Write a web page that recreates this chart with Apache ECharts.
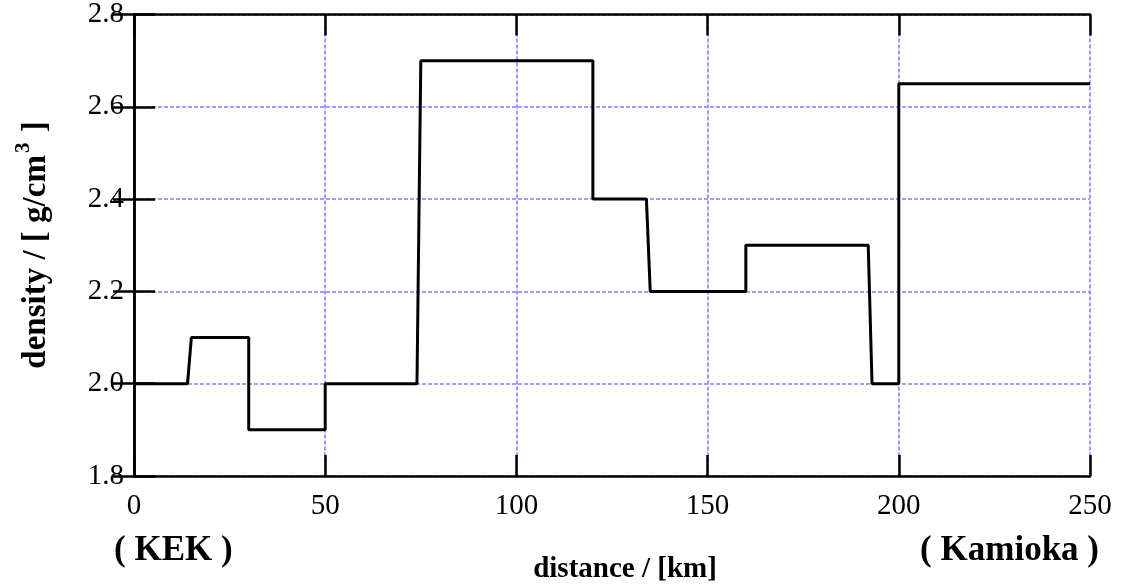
<!DOCTYPE html>
<html>
<head>
<meta charset="utf-8">
<script src="https://cdn.jsdelivr.net/npm/echarts@6/dist/echarts.min.js"></script>
<style>html,body{margin:0;padding:0;background:#fff}#c{width:1122px;height:588px}</style>
</head>
<body>
<div id="c"></div>
<script>
// step profile of density along the KEK -> Kamioka baseline
const distanceKm = [0, 14, 15, 30, 30, 50, 50, 74, 75, 120, 120, 134, 135, 160, 160, 192, 193, 200, 200, 250];
const densityGcm3 = [2.0, 2.0, 2.1, 2.1, 1.9, 1.9, 2.0, 2.0, 2.7, 2.7, 2.4, 2.4, 2.2, 2.2, 2.3, 2.3, 2.0, 2.0, 2.65, 2.65];
const xTicks = [0, 50, 100, 150, 200, 250];
const yTicks = ['1.8', '2.0', '2.2', '2.4', '2.6', '2.8'];
const xTitle = 'distance / [km]';
const yTitleMain = 'density / [ g/cm';
const yTitleSup = '3';
const leftEndLabel = '( KEK )';
const rightEndLabel = '( Kamioka )';

const FONT = '"Liberation Serif", "DejaVu Serif", serif';
const chart = echarts.init(document.getElementById('c'));
const points = distanceKm.map((d, i) => [d, densityGcm3[i]]);

const tickStyle = { show: true, inside: true, length: 21, lineStyle: { color: '#000', width: 2.5 } };
const lineStyleAxis = { show: true, lineStyle: { color: '#000', width: 2.5 } };
const gridLine = { show: true, lineStyle: { color: '#8080f8', width: 1.6, type: [4, 2] } };

chart.setOption({
  animation: false,
  grid: { left: 134, right: 32, top: 14, bottom: 112, containLabel: false },
  xAxis: [
    {
      type: 'value', min: xTicks[0], max: xTicks[xTicks.length - 1], interval: 50, position: 'bottom',
      axisLine: lineStyleAxis, axisTick: tickStyle, splitLine: gridLine,
      axisLabel: { color: '#000', fontFamily: FONT, fontSize: 29, margin: 16 }
    },
    {
      type: 'value', min: xTicks[0], max: xTicks[xTicks.length - 1], interval: 50, position: 'top',
      axisLine: lineStyleAxis, axisTick: tickStyle, splitLine: { show: false }, axisLabel: { show: false }
    }
  ],
  yAxis: [
    {
      type: 'value', min: 1.8, max: 2.8, interval: 0.2, position: 'left',
      axisLine: lineStyleAxis, axisTick: tickStyle, splitLine: gridLine,
      axisLabel: { color: '#000', fontFamily: FONT, fontSize: 29, margin: 10,
        formatter: (v) => yTicks.find(t => Math.abs(parseFloat(t) - v) < 1e-6) || v.toFixed(1) }
    },
    {
      type: 'value', min: 1.8, max: 2.8, interval: 0.2, position: 'right',
      axisLine: lineStyleAxis, axisTick: tickStyle, splitLine: { show: false }, axisLabel: { show: false }
    }
  ],
  series: [{
    type: 'line', xAxisIndex: 0, yAxisIndex: 0, data: points, symbol: 'none',
    lineStyle: { color: '#000', width: 3 }, z: 5
  }],
  graphic: [
    { type: 'text', x: 625, y: 570, style: { text: xTitle, font: 'bold 29px ' + FONT, fill: '#000', align: 'center', verticalAlign: 'middle' } },
    { type: 'text', x: 114, y: 551, style: { text: leftEndLabel, font: 'bold 35px ' + FONT, fill: '#000', align: 'left', verticalAlign: 'middle' } },
    { type: 'text', x: 1099, y: 551, style: { text: rightEndLabel, font: 'bold 35px ' + FONT, fill: '#000', align: 'right', verticalAlign: 'middle' } },
    {
      type: 'text', x: 33, y: 245, rotation: Math.PI / 2,
      style: {
        text: '{m|' + yTitleMain + '}{s|' + yTitleSup + '}{m| ]}',
        align: 'center', verticalAlign: 'middle', fill: '#000',
        rich: {
          m: { fontFamily: FONT, fontWeight: 'bold', fontSize: 33, lineHeight: 40, verticalAlign: 'bottom' },
          s: { fontFamily: FONT, fontWeight: 'bold', fontSize: 21, lineHeight: 40, verticalAlign: 'top', padding: [0, 2, 0, 2] }
        }
      }
    }
  ]
});
</script>
</body>
</html>
